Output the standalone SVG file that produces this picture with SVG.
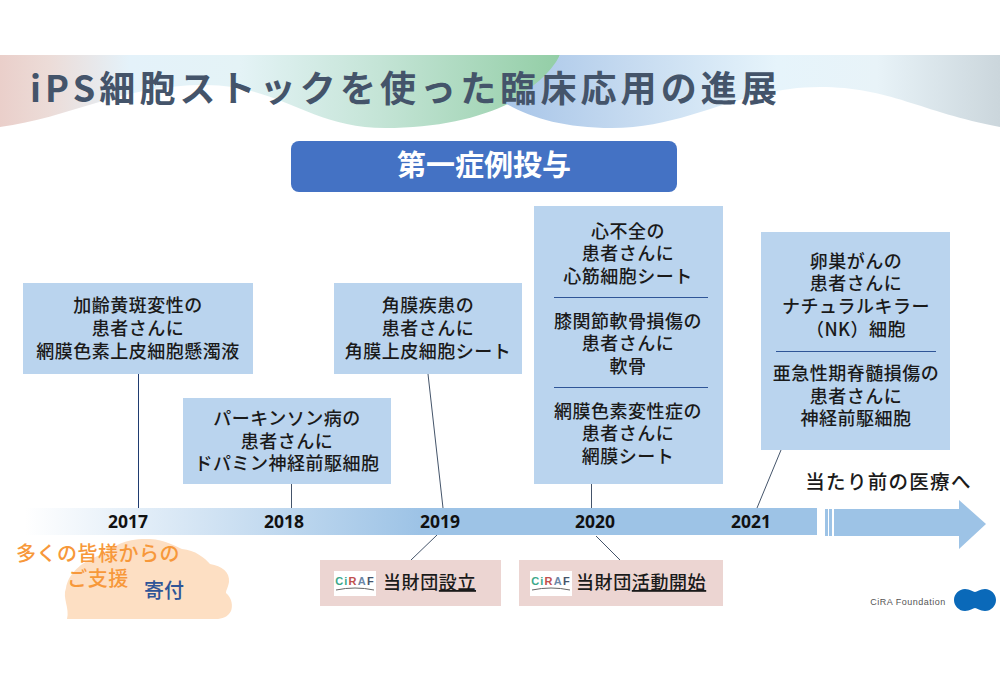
<svg xmlns="http://www.w3.org/2000/svg" width="1000" height="690" viewBox="0 0 1000 690">
<style>
text{font-family:"Noto Sans CJK JP","Liberation Sans",sans-serif;text-anchor:middle}
.b{fill:#bad4ee}.t{font-size:18px;font-weight:500;fill:#1a1a1a;letter-spacing:.5px}
.y{font-size:17.5px;font-weight:700;fill:#111;font-family:"Noto Sans","Liberation Sans",sans-serif}
.l{stroke:#44546a;stroke-width:1;fill:none}.d{stroke:#2f5597;stroke-width:1}
.p{fill:#ecd5d2}.f{font-size:18px;font-weight:500;fill:#1a1a1a;text-anchor:start;letter-spacing:.6px}
.lg{fill:#fff}.lt{font-size:11px;font-weight:700;font-family:"Liberation Sans",sans-serif;letter-spacing:1.2px}
.o{font-size:20px;font-weight:500;fill:#f7983a;letter-spacing:.5px}
</style>
<defs>
<linearGradient id="g1" gradientUnits="userSpaceOnUse" x1="0" x2="1000" y1="0" y2="0">
<stop offset="0" stop-color="#eacfca"/><stop offset=".05" stop-color="#ecdcd8"/><stop offset=".13" stop-color="#e4f2fa"/><stop offset=".24" stop-color="#e4f3f6"/><stop offset=".38" stop-color="#c4e4d6"/><stop offset=".56" stop-color="#93cea6"/><stop offset="1" stop-color="#93cea6"/>
</linearGradient>
<linearGradient id="g2" gradientUnits="userSpaceOnUse" x1="505" x2="1000" y1="0" y2="0">
<stop offset="0" stop-color="#a8c5e8"/><stop offset=".25" stop-color="#c5daf0"/><stop offset=".55" stop-color="#e6f4fb"/><stop offset=".75" stop-color="#e8f3f8"/><stop offset="1" stop-color="#cbd6dc"/>
</linearGradient>
<linearGradient id="g3" gradientUnits="userSpaceOnUse" x1="25" x2="420" y1="0" y2="0">
<stop offset="0" stop-color="#fff"/><stop offset="1" stop-color="#9dc3e6"/>
</linearGradient>
</defs>
<g id="header">
<path fill="url(#g1)" d="M0 55H560C545 95 480 128 385 128C310 128 280 85 205 85C120 85 70 118 0 127Z"/>
<path fill="url(#g2)" d="M560 55H1000V127C920 112 890 87 820 87C740 87 690 128 612 128C565 128 530 118 505 103C530 90 550 75 560 55Z"/>
<text x="405.500" y="102" style="font-size:36px;font-weight:700;letter-spacing:4.1px;fill:#44546a">iPS細胞ストックを使った臨床応用の進展</text>
</g>
<g id="connectors">
<line stroke="#1f3b70" x1="138.500" y1="374" x2="138.500" y2="508"/>
<line class="l" x1="291.500" y1="484" x2="291.500" y2="508"/>
<line class="l" x1="428" y1="374" x2="443" y2="508"/>
<line class="l" x1="591.500" y1="484" x2="591.500" y2="508"/>
<line class="l" x1="781" y1="450" x2="757" y2="508"/>
<line class="l" x1="437" y1="535" x2="411" y2="560"/>
<line class="l" x1="596" y1="536" x2="620" y2="560"/>
</g>
<g id="first-dose">
<rect x="291" y="141" width="386" height="51" rx="8" fill="#4472c4"/>
<text x="484" y="176" style="font-size:29px;font-weight:700;fill:#fff">第一症例投与</text>
</g>
<g id="n2017">
<rect class="b" x="23" y="283" width="230" height="91"/>
<text class="t" x="138" y="312">加齢黄斑変性の</text>
<text class="t" x="138" y="335">患者さんに</text>
<text class="t" x="138" y="358">網膜色素上皮細胞懸濁液</text>
</g>
<g id="n2018">
<rect class="b" x="183" y="398" width="208" height="86"/>
<text class="t" x="287" y="425">パーキンソン病の</text>
<text class="t" x="287" y="448">患者さんに</text>
<text class="t" x="287" y="470">ドパミン神経前駆細胞</text>
</g>
<g id="n2019">
<rect class="b" x="334" y="283" width="188" height="91"/>
<text class="t" x="428" y="312">角膜疾患の</text>
<text class="t" x="428" y="335">患者さんに</text>
<text class="t" x="428" y="358">角膜上皮細胞シート</text>
</g>
<g id="n2020">
<rect class="b" x="534" y="206" width="189" height="278"/>
<text class="t" x="628" y="238">心不全の</text>
<text class="t" x="628" y="260">患者さんに</text>
<text class="t" x="628" y="283">心筋細胞シート</text>
<line class="d" x1="554" y1="297.500" x2="708" y2="297.500"/>
<text class="t" x="628" y="328">膝関節軟骨損傷の</text>
<text class="t" x="628" y="350">患者さんに</text>
<text class="t" x="628" y="373">軟骨</text>
<line class="d" x1="554" y1="387.500" x2="708" y2="387.500"/>
<text class="t" x="628" y="418">網膜色素変性症の</text>
<text class="t" x="628" y="440">患者さんに</text>
<text class="t" x="628" y="463">網膜シート</text>
</g>
<g id="n2021">
<rect class="b" x="761" y="232" width="189" height="218"/>
<text class="t" x="856" y="268">卵巣がんの</text>
<text class="t" x="856" y="290">患者さんに</text>
<text class="t" x="856" y="313">ナチュラルキラー</text>
<text class="t" x="856" y="336">（NK）細胞</text>
<line class="d" x1="776" y1="351.500" x2="936" y2="351.500"/>
<text class="t" x="856" y="380">亜急性期脊髄損傷の</text>
<text class="t" x="856" y="403">患者さんに</text>
<text class="t" x="856" y="425">神経前駆細胞</text>
</g>
<g id="timeline">
<rect x="25" y="508" width="792" height="27" fill="url(#g3)"/>
<rect x="825" y="509" width="3" height="27" fill="#9dc3e6"/>
<rect x="829" y="509" width="3" height="27" fill="#9dc3e6"/>
<path fill="#9dc3e6" d="M834 509H959V500L986 524L959 549V536H834Z"/>
<text class="y" x="128" y="528">2017</text>
<text class="y" x="284" y="528">2018</text>
<text class="y" x="440" y="528">2019</text>
<text class="y" x="595" y="528">2020</text>
<text class="y" x="751" y="528">2021</text>
<text x="888.500" y="489" style="font-size:19.500px;font-weight:500;fill:#1a1a1a;letter-spacing:1.300px">当たり前の医療へ</text>
</g>
<g id="donation">
<path fill="#fddfc3" d="M67 619C70 608 62 598 66 588C68 575 80 562 100 555C115 546 125 538 150 539C165 540 175 546 182 549C195 550 205 558 210 564C222 566 230 572 229 582C228 588 226 590 226 593C232 598 233 606 231 611C228 617 222 619 216 619Z"/>
<text class="o" x="98" y="561">多くの皆様からの</text>
<text class="o" x="98" y="586">ご支援</text>
<text x="164" y="598" style="font-size:20px;font-weight:500;fill:#2f5597">寄付</text>
</g>
<g id="found1">
<rect class="p" x="320" y="560" width="181" height="46"/>
<rect class="lg" x="334" y="571" width="42" height="25"/>
<text class="lt" x="355" y="585"><tspan fill="#3aa88a">Ci</tspan><tspan fill="#c0504d">R</tspan><tspan fill="#6b87a8">A</tspan><tspan fill="#44546a">F</tspan></text>
<path d="M336 590Q355 586 374 590" fill="none" stroke="#666" stroke-width="1"/>
<text class="f" x="383" y="589">当財団<tspan text-decoration="underline">設立</tspan></text>
</g>
<g id="found2">
<rect class="p" x="519" y="560" width="204" height="46"/>
<rect class="lg" x="530" y="571" width="42" height="25"/>
<text class="lt" x="551" y="585"><tspan fill="#3aa88a">Ci</tspan><tspan fill="#c0504d">R</tspan><tspan fill="#6b87a8">A</tspan><tspan fill="#44546a">F</tspan></text>
<path d="M532 590Q551 586 570 590" fill="none" stroke="#666" stroke-width="1"/>
<text class="f" x="576" y="589">当財団<tspan text-decoration="underline">活動開始</tspan></text>
</g>
<g id="brand">
<text x="908" y="605" style="font-size:9px;fill:#555;letter-spacing:.5px;font-family:'Liberation Sans',sans-serif">CiRA Foundation</text>
<path fill="#0a69b9" d="M965 589C970 589 973 592 975 592C977 592 980 589 985 589C991 589 996 594 996 600C996 606 991 611 985 611C980 611 977 608 975 608C973 608 970 611 965 611C959 611 954 606 954 600C954 594 959 589 965 589Z"/>
</g>
</svg>
